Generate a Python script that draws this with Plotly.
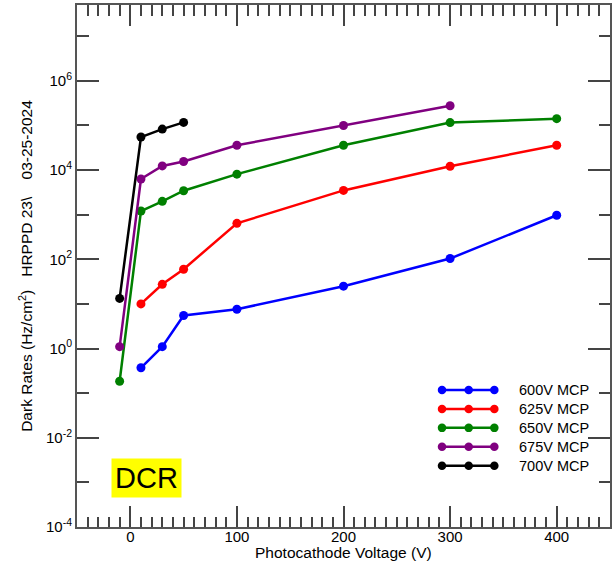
import plotly.graph_objects as go

# Photocathode voltage (V) and dark count rates (Hz/cm^2) per MCP voltage
v_600 = [10, 30, 50, 100, 200, 300, 400]
r_600 = [0.37, 1.1, 5.5, 7.6, 25, 104, 970]

v_625 = [10, 30, 50, 100, 200, 300, 400]
r_625 = [10, 27.5, 60, 640, 3500, 12200, 36000]

v_650 = [-10, 10, 30, 50, 100, 200, 300, 400]
r_650 = [0.185, 1210, 1990, 3440, 8100, 36000, 116000, 142000]

v_675 = [-10, 10, 30, 50, 100, 200, 300]
r_675 = [1.1, 6300, 12400, 15600, 36000, 100000, 277000]

v_700 = [-10, 10, 30, 50]
r_700 = [13.3, 55000, 83000, 117000]

series_names = ["600V MCP", "625V MCP", "650V MCP", "675V MCP", "700V MCP"]
series_colors = ["#0000FF", "#FF0000", "#008000", "#800080", "#000000"]
series_x = [v_600, v_625, v_650, v_675, v_700]
series_y = [r_600, r_625, r_650, r_675, r_700]

y_major = [1e-4, 1e-2, 1e0, 1e2, 1e4, 1e6]
y_major_text = ["10<sup>-4</sup>", "10<sup>-2</sup>", "10<sup>0</sup>",
                "10<sup>2</sup>", "10<sup>4</sup>", "10<sup>6</sup>"]
y_minor = [1e-3, 1e-1, 1e1, 1e3, 1e5, 1e7]

FONT = "Liberation Sans, Arial, Helvetica, sans-serif"
AXIS_COLOR = "#555555"
TICK_COLOR = "#444444"

fig = go.Figure()

for xs, ys, name, col in zip(series_x, series_y, series_names, series_colors):
    fig.add_trace(go.Scatter(
        x=xs, y=ys, name=name, mode="lines+markers",
        line=dict(color=col, width=2.5),
        marker=dict(color=col, size=9),
        showlegend=False,
    ))

# Legend keys: a short line with three dots per series, on a unit overlay axis
key_x = [0.6848, 0.7349, 0.7830]
key_rows = [0.2624, 0.2261, 0.1899, 0.1536, 0.1174]
for row, name, col in zip(key_rows, series_names, series_colors):
    fig.add_trace(go.Scatter(
        x=key_x, y=[row] * 3, mode="lines+markers",
        line=dict(color=col, width=2.5),
        marker=dict(color=col, size=8.5),
        xaxis="x2", yaxis="y2", showlegend=False, hoverinfo="skip",
    ))
    fig.add_annotation(
        x=0.8255, y=row, xref="paper", yref="paper",
        text=name, showarrow=False, xanchor="left", yanchor="middle",
        font=dict(family=FONT, size=14.5, color="#000000"),
    )

fig.update_layout(
    width=616, height=563,
    margin=dict(l=77, r=6, t=3, b=36),
    paper_bgcolor="white", plot_bgcolor="white",
    font=dict(family=FONT, size=15, color="#000000"),
    xaxis=dict(
        range=[-50, 450], tick0=0, dtick=100,
        ticks="inside", ticklen=21, tickwidth=1.5, tickcolor=TICK_COLOR,
        minor=dict(dtick=10, tick0=0, ticks="inside", ticklen=10.5,
                   tickwidth=1.5, tickcolor=TICK_COLOR, showgrid=False),
        showline=True, linecolor=AXIS_COLOR, linewidth=2, mirror="allticks",
        showgrid=False, zeroline=False,
        tickfont=dict(size=15), ticklabelstandoff=-5,
    ),
    yaxis=dict(
        type="log", range=[-4, 7.7],
        tickmode="array", tickvals=y_major, ticktext=y_major_text,
        ticks="inside", ticklen=22, tickwidth=1.5, tickcolor=TICK_COLOR,
        minor=dict(tickmode="array", tickvals=y_minor, ticks="inside",
                   ticklen=11.5, tickwidth=1.5, tickcolor=TICK_COLOR,
                   showgrid=False),
        showline=True, linecolor=AXIS_COLOR, linewidth=2, mirror="allticks",
        showgrid=False, zeroline=False,
        tickfont=dict(size=15),
    ),
    xaxis2=dict(overlaying="x", range=[0, 1], visible=False),
    yaxis2=dict(overlaying="y", range=[0, 1], visible=False),
)

# Axis titles
fig.add_annotation(
    x=-0.096, y=0.5, xref="paper", yref="paper",
    text="Dark Rates (Hz/cm<sup>2</sup>)\u00a0\u00a0\u00a0HRPPD 23\\\u00a0\u00a0\u00a0\u00a003-25-2024",
    textangle=-90, showarrow=False, xanchor="center", yanchor="middle",
    font=dict(family=FONT, size=15.5, color="#000000"),
)
fig.add_annotation(
    x=0.5, y=-0.049, xref="paper", yref="paper",
    text="Photocathode Voltage (V)", showarrow=False,
    xanchor="center", yanchor="middle",
    font=dict(family=FONT, size=15.5, color="#000000"),
)

# Highlighted label
fig.add_annotation(
    x=0.1295, y=0.0935, xref="paper", yref="paper",
    text="DCR", showarrow=False, xanchor="center", yanchor="middle",
    bgcolor="#FFFF00", borderpad=3,
    font=dict(family=FONT, size=29, color="#000000"),
)

fig.write_html("out.html")
